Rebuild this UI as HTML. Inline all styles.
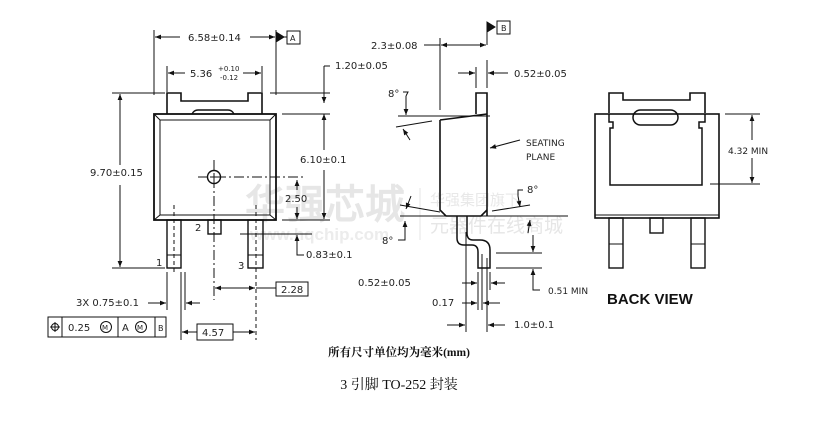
<!DOCTYPE html>
<html><head><meta charset="utf-8"><style>
html,body{margin:0;padding:0;background:#fff;width:816px;height:427px;overflow:hidden}
svg{display:block}
text{font-family:"DejaVu Sans","Liberation Sans",sans-serif;fill:#222}
.t{font-size:10px}
.s{font-size:7px}
</style></head><body>
<svg width="816" height="427" viewBox="0 0 816 427" xmlns="http://www.w3.org/2000/svg">
<defs>
<marker id="a" viewBox="0 0 10 10" refX="10" refY="5" markerWidth="7" markerHeight="6" orient="auto-start-reverse"><path d="M0,1 L10,5 L0,9 z" fill="#111"/></marker>
</defs>
<!-- watermark -->
<g font-family="'Noto Sans CJK SC',sans-serif">
<text x="245" y="218" font-size="40" font-weight="bold" style="fill:#e6e6e6">华强芯城</text>
<text x="250" y="240" font-size="17" font-weight="bold" style="fill:#ececec;font-family:'Liberation Sans',sans-serif">www.hqchip.com</text>
<text x="430" y="205" font-size="15" style="fill:#e8e8e8">华强集团旗下</text>
<text x="430" y="232" font-size="19" style="fill:#e6e6e6">元器件在线商城</text>
<line x1="420" y1="188" x2="420" y2="240" stroke="#e6e6e6"/>
</g>
<g stroke="#111" fill="none" stroke-width="1">
<!-- FRONT VIEW -->
<path d="M167,114 V93 H181 V101 H248 V93 H262 V114" stroke-width="1.6"/>
<path d="M192,114 Q194,110 198,110 H228 Q232,110 234,114" stroke-width="1.4"/>
<rect x="154" y="114" width="122" height="106" stroke-width="1.8"/>
<rect x="160" y="120" width="110" height="95"/>
<path d="M154,114 L160,120 M276,114 L270,120 M154,220 L160,215 M276,220 L270,215"/>
<circle cx="214" cy="177" r="6.5" stroke-width="1.4"/>
<path d="M210,177 H218 M214,173 V181"/>
<path d="M198,177 H305" stroke-dasharray="10,3,2,3"/>
<path d="M214,160 V300" stroke-dasharray="10,3,2,3"/>
<rect x="167" y="220" width="14" height="48" stroke-width="1.4"/>
<line x1="167" y1="255" x2="181" y2="255"/>
<rect x="248" y="220" width="15" height="48" stroke-width="1.4"/>
<line x1="248" y1="255" x2="263" y2="255"/>
<rect x="208" y="220" width="13" height="14" stroke-width="1.4"/>
<path d="M174,205 V275" stroke-dasharray="4,3"/>
<path d="M256,205 V340" stroke-dasharray="4,3"/>
<!-- dims front -->
<path d="M154,30 V95 M276,30 V95"/>
<line x1="155" y1="37" x2="180" y2="37" marker-start="url(#a)"/>
<line x1="250" y1="37" x2="275" y2="37" marker-end="url(#a)"/>
<path d="M276,37 L287,37" /><path d="M276,32 L284,37 L276,42 z" fill="#111"/>
<rect x="287" y="31" width="13" height="13"/>
<path d="M167,66 V92 M262,66 V92"/>
<line x1="168" y1="73" x2="185" y2="73" marker-start="url(#a)"/>
<line x1="243" y1="73" x2="261" y2="73" marker-end="url(#a)"/>
<path d="M112,93 H165 M112,268 H165"/>
<line x1="120" y1="94" x2="120" y2="165" marker-start="url(#a)"/>
<line x1="120" y1="185" x2="120" y2="267" marker-end="url(#a)"/>
<path d="M270,93 H330 M282,114 H330 M282,220 H330 M240,234 H312"/>
<path d="M324,66 H330 M324,66 V93"/>
<line x1="324" y1="93" x2="324" y2="103" marker-end="url(#a)" />
<line x1="324" y1="124" x2="324" y2="114" marker-end="url(#a)"/>
<line x1="324" y1="124" x2="324" y2="150"/>
<line x1="324" y1="170" x2="324" y2="219" marker-end="url(#a)"/>
<line x1="297" y1="180" x2="297" y2="190" marker-start="url(#a)"/>
<line x1="297" y1="207" x2="297" y2="219" marker-end="url(#a)"/>
<line x1="297" y1="248" x2="297" y2="235" marker-end="url(#a)"/>
<path d="M297,248 V255 H304"/>
<line x1="215" y1="288" x2="255" y2="288" marker-start="url(#a)" marker-end="url(#a)"/>
<line x1="256" y1="288" x2="276" y2="288"/>
<rect x="276" y="282" width="32" height="14"/>
<path d="M167,272 V310 M181,272 V340 M185,272 V310"/>
<line x1="148" y1="303" x2="166" y2="303" marker-end="url(#a)"/>
<line x1="200" y1="303" x2="186" y2="303" marker-end="url(#a)"/>
<line x1="182" y1="332" x2="197" y2="332" marker-start="url(#a)"/>
<rect x="197" y="324" width="36" height="16"/>
<line x1="233" y1="332" x2="255" y2="332" marker-end="url(#a)"/>
<rect x="48" y="317" width="118" height="20"/>
<path d="M62,317 V337 M118,317 V337 M155,317 V337"/>
<circle cx="55" cy="327" r="3.5"/><path d="M50,327 H60 M55,322 V332"/>
<circle cx="106" cy="327" r="5.5"/><circle cx="141" cy="327" r="5.5"/>
<!-- SIDE VIEW -->
<path d="M476,114 V93 H487 V216" stroke-width="1.6"/>
<path d="M440,120 L487,114 M440,120 V210 L446,216 H481 L487,210" stroke-width="1.6"/>
<path d="M457,216 V238 Q457,245 464,245 H472 Q478,245 478,252 V268 H490 V250 Q490,240 480,240 H473 Q467,240 467,233 V216" stroke-width="1.5"/>
<path d="M440,110 V38 M487,27 V45"/>
<path d="M487,27 L495,27"/><path d="M487,22 L495,27 L487,32 z" fill="#111"/>
<rect x="497" y="21" width="13" height="13"/>
<line x1="424" y1="45" x2="440" y2="45"/>
<line x1="441" y1="45" x2="486" y2="45" marker-start="url(#a)" marker-end="url(#a)"/>
<path d="M476,67 V88 M487,60 V88"/>
<line x1="458" y1="73" x2="475" y2="73" marker-end="url(#a)"/>
<line x1="508" y1="73" x2="488" y2="73" marker-end="url(#a)"/>
<path d="M398,116 H490 M396,127 L432,121"/>
<path d="M403,92 H408 L406,96"/>
<line x1="406" y1="96" x2="406" y2="115" marker-end="url(#a)"/>
<line x1="410" y1="140" x2="403" y2="129" marker-end="url(#a)"/>
<path d="M520,140 L490,148" marker-end="url(#a)"/>
<path d="M400,205 L440,212 M400,216 H568 M492,211 L530,205"/>
<line x1="411" y1="196" x2="406" y2="209" marker-end="url(#a)"/>
<path d="M398,240 H405 L405,234"/><line x1="405" y1="234" x2="405" y2="221" marker-end="url(#a)"/>
<path d="M523,190 H518 L518,196"/><line x1="518" y1="196" x2="520" y2="207" marker-end="url(#a)"/>
<line x1="528" y1="233" x2="530" y2="220" marker-end="url(#a)"/>
<path d="M496,253 H542 M496,268 H542"/>
<line x1="533" y1="235" x2="533" y2="252" marker-end="url(#a)"/>
<line x1="533" y1="283" x2="533" y2="269" marker-end="url(#a)"/>
<path d="M533,283 V290 H540"/>
<path d="M466,232 V332 M478,272 V310 M482,254 V310 M487,258 V332 M490,272 V290"/>
<line x1="462" y1="283" x2="477" y2="283" marker-end="url(#a)"/>
<line x1="505" y1="283" x2="491" y2="283" marker-end="url(#a)"/>
<line x1="462" y1="303" x2="477" y2="303" marker-end="url(#a)"/>
<line x1="500" y1="303" x2="483" y2="303" marker-end="url(#a)"/>
<line x1="447" y1="325" x2="465" y2="325" marker-end="url(#a)"/>
<line x1="505" y1="325" x2="488" y2="325" marker-end="url(#a)"/>
<!-- BACK VIEW -->
<path d="M609,113 V93 H623 V100 H690 V93 H705 V113" stroke-width="1.6"/>
<rect x="595" y="114" width="124" height="104" stroke-width="1.6"/>
<line x1="595" y1="215" x2="719" y2="215"/>
<path d="M609,114 V122 H613 V128 H610 V185 H702 V128 H699 V122 H705 V114" stroke-width="1.5"/>
<rect x="633" y="110" width="45" height="15" rx="7.5" stroke-width="1.5"/>
<rect x="609" y="218" width="14" height="50" stroke-width="1.4"/>
<line x1="609" y1="244" x2="623" y2="244"/>
<rect x="691" y="218" width="14" height="50" stroke-width="1.4"/>
<line x1="691" y1="244" x2="705" y2="244"/>
<rect x="650" y="218" width="13" height="15" stroke-width="1.4"/>
<path d="M725,114 H760 M710,184 H760"/>
<line x1="752" y1="140" x2="752" y2="115" marker-end="url(#a)"/>
<line x1="752" y1="158" x2="752" y2="183" marker-end="url(#a)"/>
</g>
<!-- labels -->
<g class="t">
<text x="188" y="41">6.58±0.14</text>
<text x="290" y="41" font-size="8">A</text>
<text x="190" y="77">5.36</text>
<text x="218" y="71" class="s">+0.10</text>
<text x="220" y="80" class="s">-0.12</text>
<text x="335" y="69">1.20±0.05</text>
<text x="90" y="176">9.70±0.15</text>
<text x="300" y="163">6.10±0.1</text>
<text x="285" y="202">2.50</text>
<text x="306" y="258">0.83±0.1</text>
<text x="195" y="231">2</text>
<text x="156" y="266">1</text>
<text x="238" y="269">3</text>
<text x="281" y="293">2.28</text>
<text x="76" y="306">3X 0.75±0.1</text>
<text x="202" y="336">4.57</text>
<text x="68" y="331">0.25</text>
<text x="102" y="330" font-size="7">M</text>
<text x="122" y="331">A</text>
<text x="137" y="330" font-size="7">M</text>
<text x="158" y="331" font-size="8">B</text>
<text x="371" y="49">2.3±0.08</text>
<text x="501" y="31" font-size="8">B</text>
<text x="514" y="77">0.52±0.05</text>
<text x="388" y="97">8°</text>
<text x="526" y="146" font-size="9">SEATING</text>
<text x="526" y="160" font-size="9">PLANE</text>
<text x="527" y="193">8°</text>
<text x="382" y="244">8°</text>
<text x="358" y="286">0.52±0.05</text>
<text x="432" y="306">0.17</text>
<text x="514" y="328">1.0±0.1</text>
<text x="548" y="294" font-size="9">0.51 MIN</text>
<text x="728" y="154" font-size="9">4.32 MIN</text>
</g>
<text x="607" y="304" font-size="15" font-weight="bold" style="font-family:'Liberation Sans',sans-serif;fill:#111">BACK VIEW</text>
<text x="399" y="356" text-anchor="middle" font-size="11.5" font-weight="bold" style="font-family:'Liberation Serif','Noto Serif CJK SC',serif;fill:#111">所有尺寸单位均为毫米(mm)</text>
<text x="399" y="389" text-anchor="middle" font-size="14" style="font-family:'Liberation Serif','Noto Serif CJK SC',serif;fill:#111">3 引脚 TO-252 封装</text>
</svg>
</body></html>
